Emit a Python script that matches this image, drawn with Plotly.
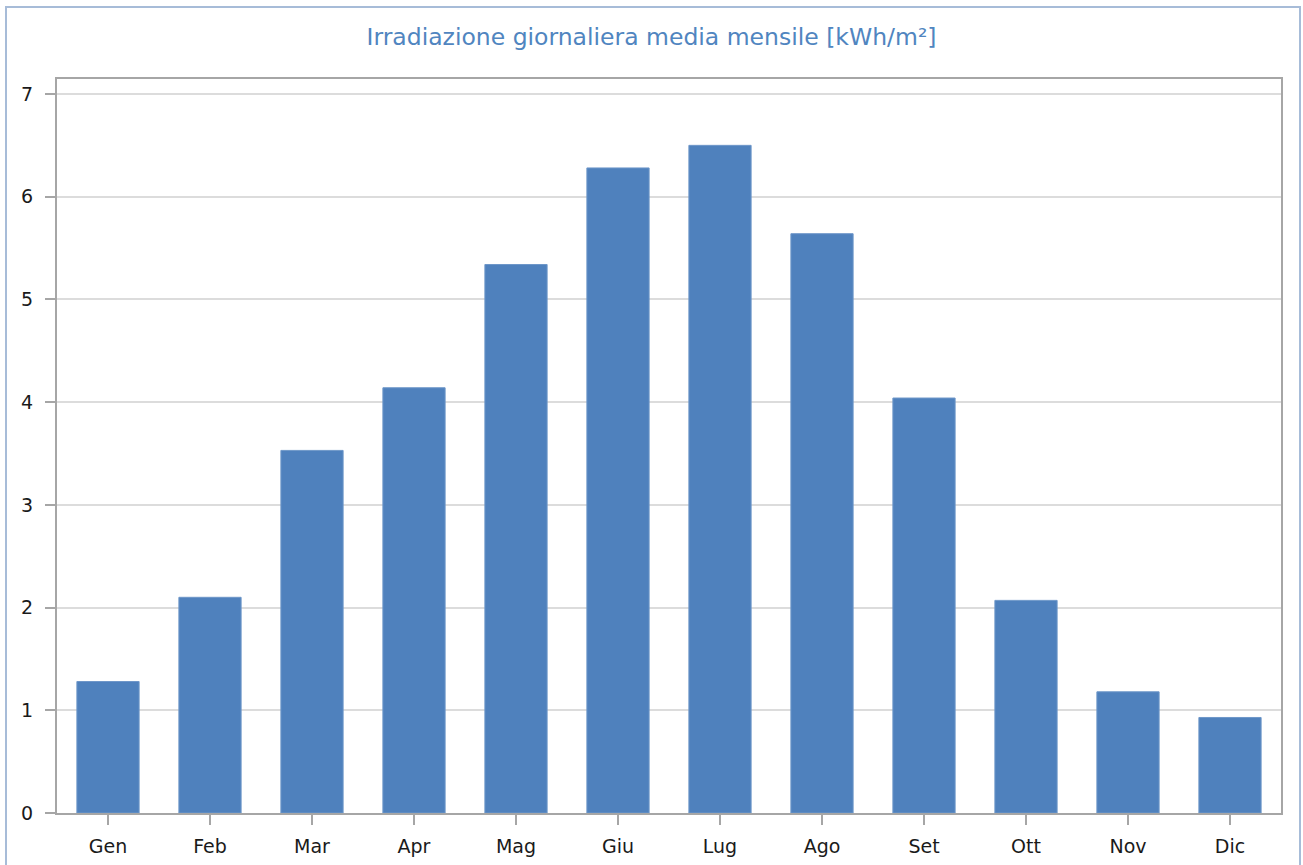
import plotly.graph_objects as go

months = ["Gen", "Feb", "Mar", "Apr", "Mag", "Giu", "Lug", "Ago", "Set", "Ott", "Nov", "Dic"]
irradiation = [1.28, 2.10, 3.53, 4.14, 5.34, 6.28, 6.50, 5.64, 4.04, 2.07, 1.18, 0.93]
y_ticks = [0, 1, 2, 3, 4, 5, 6, 7]

L, R, T, B = 57, 22, 79, 52
W, H = 1303, 865
PW, PH = W - L - R, H - T - B

fig = go.Figure(
    go.Bar(
        x=months,
        y=irradiation,
        marker=dict(color="#4F81BD", line=dict(color="#6E97C9", width=1)),
    )
)

fig.update_layout(
    width=W,
    height=H,
    margin=dict(l=L, r=R, t=T, b=B, autoexpand=False),
    paper_bgcolor="white",
    plot_bgcolor="white",
    bargap=0.39,
    showlegend=False,
    title=dict(
        text="Irradiazione giornaliera media mensile [kWh/m²]",
        x=0.5,
        xanchor="center",
        y=1 - 37 / H,
        yanchor="middle",
        font=dict(family="DejaVu Sans", size=23.5, color="#5085C0"),
    ),
    font=dict(family="DejaVu Sans", size=19, color="#1a1a1a"),
    shapes=[
        dict(
            type="rect", xref="paper", yref="paper",
            x0=(6 - L) / PW, x1=(1300 - L) / PW,
            y0=-0.2, y1=(H - B - 7) / PH,
            line=dict(color="#A7BCD8", width=2), layer="below",
        )
    ],
)

fig.update_xaxes(
    automargin=False,
    showgrid=False,
    showline=True, linecolor="#A6A6A6", linewidth=2, mirror=True,
    ticks="outside", ticklen=10, tickcolor="#A6A6A6", tickwidth=2,
    ticklabelstandoff=5,
)
fig.update_yaxes(
    automargin=False,
    range=[0, 7.146],
    tickvals=y_ticks,
    showgrid=True, gridcolor="#DCDCDC", gridwidth=2,
    showline=True, linecolor="#A6A6A6", linewidth=2, mirror=True,
    ticks="outside", ticklen=10, tickcolor="#A6A6A6", tickwidth=2,
    ticklabelstandoff=8,
    zeroline=False,
)

fig.write_html(
    "out.html",
    config={"displayModeBar": False},
    post_script="document.body.style.margin='0px';",
)
